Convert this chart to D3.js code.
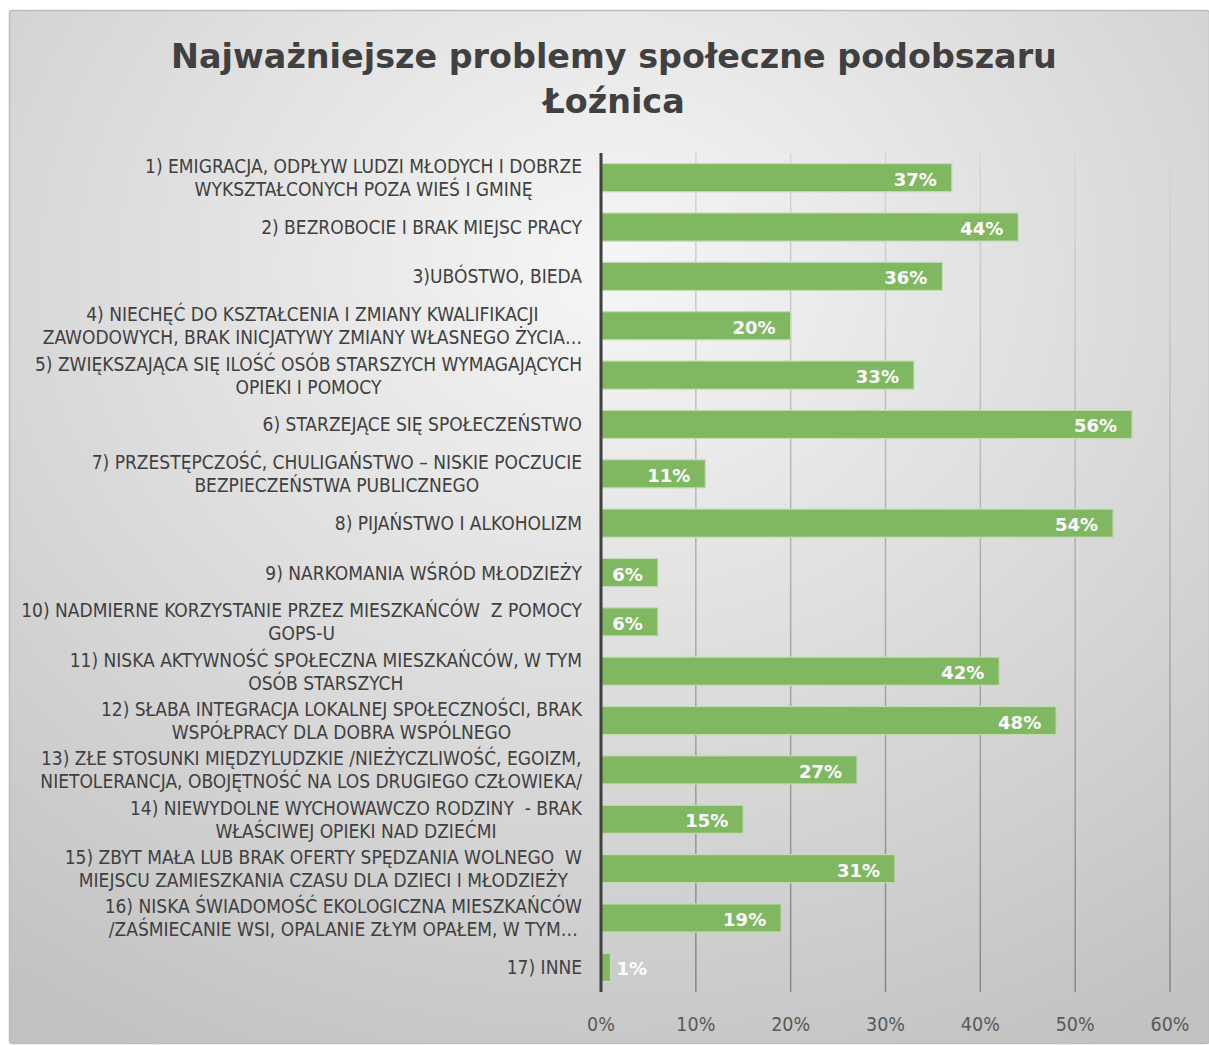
<!DOCTYPE html>
<html>
<head>
<meta charset="utf-8">
<script src="https://cdn.jsdelivr.net/npm/d3@7"></script>
<style>
  body { margin: 0; background: #fff; }
</style>
</head>
<body>
<div id="chart"></div>
<script>
// Chart data
const categories = [
  "1) EMIGRACJA, ODPŁYW LUDZI MŁODYCH I DOBRZE\nWYKSZTAŁCONYCH POZA WIEŚ I GMINĘ",
  "2) BEZROBOCIE I BRAK MIEJSC PRACY",
  "3)UBÓSTWO, BIEDA",
  "4) NIECHĘĆ DO KSZTAŁCENIA I ZMIANY KWALIFIKACJI\nZAWODOWYCH, BRAK INICJATYWY ZMIANY WŁASNEGO ŻYCIA…",
  "5) ZWIĘKSZAJĄCA SIĘ ILOŚĆ OSÓB STARSZYCH WYMAGAJĄCYCH\nOPIEKI I POMOCY",
  "6) STARZEJĄCE SIĘ SPOŁECZEŃSTWO",
  "7) PRZESTĘPCZOŚĆ, CHULIGAŃSTWO – NISKIE POCZUCIE\nBEZPIECZEŃSTWA PUBLICZNEGO",
  "8) PIJAŃSTWO I ALKOHOLIZM",
  "9) NARKOMANIA WŚRÓD MŁODZIEŻY",
  "10) NADMIERNE KORZYSTANIE PRZEZ MIESZKAŃCÓW  Z POMOCY\nGOPS-U",
  "11) NISKA AKTYWNOŚĆ SPOŁECZNA MIESZKAŃCÓW, W TYM\nOSÓB STARSZYCH",
  "12) SŁABA INTEGRACJA LOKALNEJ SPOŁECZNOŚCI, BRAK\nWSPÓŁPRACY DLA DOBRA WSPÓLNEGO",
  "13) ZŁE STOSUNKI MIĘDZYLUDZKIE /NIEŻYCZLIWOŚĆ, EGOIZM,\nNIETOLERANCJA, OBOJĘTNOŚĆ NA LOS DRUGIEGO CZŁOWIEKA/",
  "14) NIEWYDOLNE WYCHOWAWCZO RODZINY  - BRAK\nWŁAŚCIWEJ OPIEKI NAD DZIEĆMI",
  "15) ZBYT MAŁA LUB BRAK OFERTY SPĘDZANIA WOLNEGO  W\nMIEJSCU ZAMIESZKANIA CZASU DLA DZIECI I MŁODZIEŻY",
  "16) NISKA ŚWIADOMOŚĆ EKOLOGICZNA MIESZKAŃCÓW\n/ZAŚMIECANIE WSI, OPALANIE ZŁYM OPAŁEM, W TYM…",
  "17) INNE"
];
const values = [37, 44, 36, 20, 33, 56, 11, 54, 6, 6, 42, 48, 27, 15, 31, 19, 1];
const xTicks = [0, 10, 20, 30, 40, 50, 60];
const titleLines = ["Najważniejsze problemy społeczne podobszaru", "Łoźnica"];

const width = 1209;
const height = 1045;
const margin = { top: 153, right: 39, bottom: 53, left: 601 };

const svg = d3.select("#chart").append("svg")
    .attr("width", width)
    .attr("height", height);

const defs = svg.append("defs");

// background radial gradient like the Excel chart area
const bg = defs.append("radialGradient")
    .attr("id", "bg")
    .attr("cx", "50%").attr("cy", "25%").attr("r", "85%")
    .attr("fx", "50%").attr("fy", "25%");
bg.append("stop").attr("offset", "0%").attr("stop-color", "#f6f6f6");
bg.append("stop").attr("offset", "100%").attr("stop-color", "#c2c2c2");

// gridlines get darker toward the bottom
const gridGrad = defs.append("linearGradient")
    .attr("id", "gridGrad")
    .attr("gradientUnits", "userSpaceOnUse")
    .attr("x1", 0).attr("x2", 0)
    .attr("y1", margin.top).attr("y2", height - margin.bottom);
gridGrad.append("stop").attr("offset", "0%").attr("stop-color", "#d6d6d6");
gridGrad.append("stop").attr("offset", "100%").attr("stop-color", "#878787");

svg.append("rect")
    .attr("x", 9.5).attr("y", 10.5)
    .attr("width", width - 9).attr("height", height - 12)
    .attr("rx", 3)
    .attr("fill", "url(#bg)")
    .attr("stroke", "#bdbdbd")
    .attr("stroke-width", 1.5);

// Title
svg.append("text")
    .attr("x", 614)
    .attr("text-anchor", "middle")
    .style("font-family", "'DejaVu Sans', Verdana, sans-serif")
    .style("font-weight", "bold")
    .style("font-size", "33.4px")
    .attr("fill", "#404040")
    .selectAll("tspan")
    .data(titleLines)
    .enter().append("tspan")
    .attr("x", 614)
    .attr("y", (d, i) => 68 + i * 45)
    .text(d => d);

// Scales
const x = d3.scaleLinear()
    .domain([0, 60])
    .range([margin.left, width - margin.right]);

const y = d3.scaleBand()
    .domain(d3.range(categories.length))
    .range([margin.top, height - margin.bottom])
    .paddingInner(0.43)
    .paddingOuter(0.215);

// Gridlines
svg.append("g")
    .selectAll("line")
    .data(xTicks.slice(1))
    .enter().append("line")
    .attr("x1", d => x(d)).attr("x2", d => x(d))
    .attr("y1", margin.top).attr("y2", height - margin.bottom)
    .attr("stroke", "url(#gridGrad)")
    .attr("stroke-width", 1.5);

// X axis tick labels
svg.append("g")
    .selectAll("text")
    .data(xTicks)
    .enter().append("text")
    .attr("x", d => x(d))
    .attr("y", 1031)
    .attr("text-anchor", "middle")
    .style("font-family", "'DejaVu Sans Condensed', 'DejaVu Sans', sans-serif")
    .style("font-size", "19.5px")
    .attr("fill", "#595959")
    .text(d => d + "%");

// Bars
svg.append("g")
    .selectAll("rect")
    .data(values)
    .enter().append("rect")
    .attr("x", x(0))
    .attr("y", (d, i) => y(i))
    .attr("width", d => x(d) - x(0))
    .attr("height", y.bandwidth())
    .attr("fill", "#80b862")
    .attr("stroke", "#c4dcb4")
    .attr("stroke-width", 1.2);

// Value labels
svg.append("g")
    .selectAll("text")
    .data(values)
    .enter().append("text")
    .attr("x", d => d < 3 ? x(d) + 6 : x(d) - 15)
    .attr("y", (d, i) => y(i) + y.bandwidth() / 2 + 8)
    .attr("text-anchor", d => d < 3 ? "start" : "end")
    .style("font-family", "'DejaVu Sans', sans-serif")
    .style("font-weight", "bold")
    .style("font-size", "18px")
    .attr("fill", "#ffffff")
    .text(d => d + "%");

// Category axis line
svg.append("line")
    .attr("x1", x(0)).attr("x2", x(0))
    .attr("y1", margin.top).attr("y2", height - margin.bottom)
    .attr("stroke", "#404040")
    .attr("stroke-width", 3);

// Category labels (right aligned block, lines centered within it)
const labelRight = 582;
const lineH = 23;
const labelG = svg.append("g");
categories.forEach((c, i) => {
    const lines = c.split("\n");
    const cy = y(i) + y.bandwidth() / 2;
    const t = labelG.append("text")
        .attr("text-anchor", "middle")
        .style("white-space", "pre")
        .style("font-family", "'DejaVu Sans Condensed', 'DejaVu Sans', sans-serif")
        .style("font-size", "19px")
        .attr("fill", "#404040");
    const spans = lines.map((l, j) => t.append("tspan")
        .attr("y", cy + (j - (lines.length - 1) / 2) * lineH + 7)
        .text(l));
    const w = d3.max(spans, s => s.node().getComputedTextLength());
    spans.forEach(s => s.attr("x", labelRight - w / 2));
});
</script>
</body>
</html>
